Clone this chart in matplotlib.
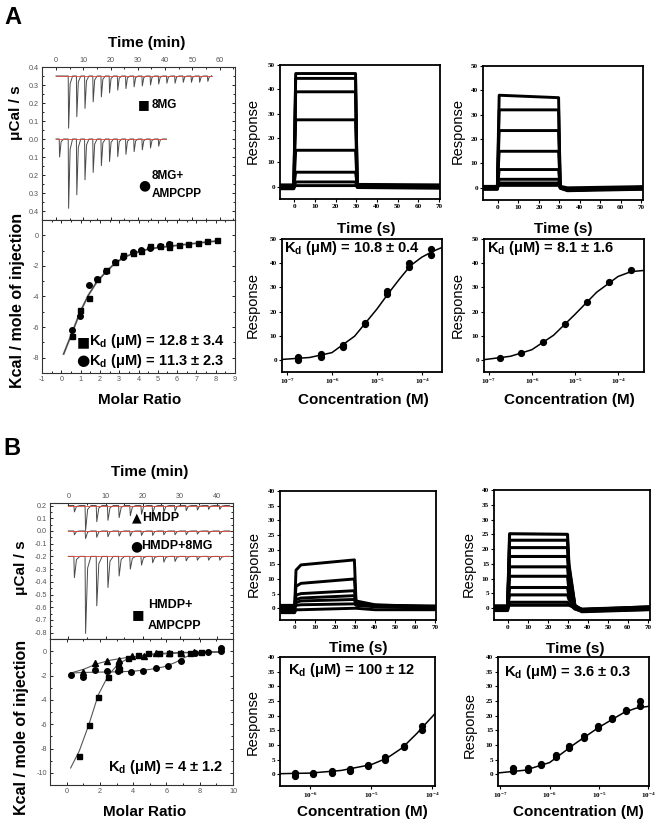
import matplotlib
matplotlib.use("Agg")
import matplotlib.pyplot as plt
from matplotlib.ticker import AutoMinorLocator, NullLocator

W, H = 661, 825
plt.rcParams["font.family"] = ["Liberation Sans", "DejaVu Sans"]
plt.rcParams["mathtext.fontset"] = "custom"
plt.rcParams["mathtext.rm"] = "Liberation Serif:bold"
plt.rcParams["mathtext.sf"] = "Liberation Sans:bold"

# ---------------- panel A : ITC raw heats (min, uCal/s) ----------------
a_8mg_inj = [4.5, 7.5, 10.5, 13.5, 16.5, 19.5, 22.5, 25.5, 28.5, 31.5, 34.5,
             37.5, 40.5, 43.5, 46.5, 49.5, 52.5, 55.5]
a_8mg_depth = [0.29, 0.226, 0.18, 0.144, 0.116, 0.094, 0.079, 0.07, 0.06,
               0.055, 0.05, 0.045, 0.04, 0.04, 0.035, 0.035, 0.035, 0.03]
a_amp_inj = [1.2, 4.5, 7.5, 10.5, 13.5, 16.5, 19.5, 22.5, 25.5, 28.5, 31.5,
             34.5, 37.5]
a_amp_depth = [0.1, 0.385, 0.31, 0.227, 0.186, 0.148, 0.125, 0.098, 0.085,
               0.07, 0.06, 0.05, 0.04]

# panel A : integrated heats
a_ratio_sq = [0.55, 0.98, 1.41, 1.84, 2.31, 2.76, 3.22, 3.69, 4.14, 4.6, 5.12,
              5.59, 5.59, 6.1, 6.59, 7.09, 7.57, 8.09]
a_heat_sq = [-6.59, -4.89, -4.09, -2.87, -2.28, -1.74, -1.30, -1.15, -1.02,
             -0.72, -0.72, -0.59, -0.76, -0.61, -0.54, -0.48, -0.39, -0.28]
a_ratio_ci = [0.55, 0.98, 1.41, 1.84, 2.31, 2.76, 3.22, 3.69, 4.14, 4.6, 5.12,
              5.59]
a_heat_ci = [-6.2, -5.26, -3.22, -2.87, -2.33, -1.74, -1.41, -1.09, -0.93,
             -0.83, -0.72, -0.59]
a_fit_ratio = [0.12, 0.55, 0.98, 1.41, 1.84, 2.31, 2.76, 3.22, 3.69, 4.6,
               5.59, 6.5, 7.6, 8.1]
a_fit_heat = [-7.76, -6.4, -5.0, -3.9, -3.04, -2.4, -1.85, -1.46, -1.2,
              -0.87, -0.72, -0.59, -0.43, -0.37]

# panel A : SPR sensorgrams (s, response)
sa1_t = [-7, -0.3, 0.6, 29.6, 30.4, 71]
sa1_y = [
    [0.5, 0.5, 46.5, 46.5, 0.8, 0.3],
    [-0.5, -0.5, 44.5, 44.5, 0.2, -0.2],
    [0.0, 0.0, 39.0, 39.0, 0.5, 0.0],
    [0.5, 0.5, 27.5, 27.5, 0.4, 0.5],
    [-0.3, -0.3, 15.0, 15.0, 0.0, -0.3],
    [0.3, 0.3, 6.0, 6.0, 0.6, 0.3],
    [-0.8, -0.8, 2.0, 2.0, -0.3, -0.6],
    [0.8, 0.8, 0.5, 0.5, 1.0, 0.8],
]
sa2_t = [-7, -0.3, 0.6, 29.6, 30.4, 34, 71]
sa2_y = [
    [0.3, 0.3, 38.0, 37.0, 0.3, -0.8, -0.5],
    [-0.5, -0.5, 32.0, 32.0, 0.0, -1.0, 0.0],
    [0.0, 0.0, 23.5, 23.5, 0.5, -0.5, -0.3],
    [0.5, 0.5, 15.0, 15.0, 0.2, -0.8, 0.3],
    [-0.3, -0.3, 7.5, 7.5, 0.0, -1.0, -0.2],
    [0.2, 0.2, 3.5, 3.5, 0.4, -0.3, 0.0],
    [-0.6, -0.6, 2.0, 2.0, -0.2, -1.2, -0.6],
    [0.6, 0.6, 1.0, 1.0, 0.6, 0.0, 0.5],
]

# panel A : SPR steady state
a1_conc = [1.78e-7, 1.78e-7, 5.6e-7, 5.6e-7, 1.74e-6, 1.74e-6, 5.4e-6, 5.4e-6,
           1.66e-5, 1.66e-5, 5.1e-5, 5.1e-5, 1.6e-4, 1.6e-4]
a1_resp = [0.0, 1.0, 1.0, 2.3, 5.5, 6.2, 14.8, 15.3, 27.2, 28.3, 38.5, 40.0,
           43.5, 45.8]
a1_fit_conc = [7.9e-8, 3.2e-7, 1e-6, 3.2e-6, 1e-5, 1.8e-5, 3.2e-5, 5.6e-5,
               1e-4, 1.8e-4, 2.8e-4]
a1_fit_resp = [0.2, 1.0, 3.0, 9.8, 21.0, 27.5, 33.5, 39.0, 42.5, 45.0, 46.5]

a2_conc = [1.82e-7, 5.75e-7, 1.86e-6, 6.0e-6, 1.9e-5, 6.2e-5, 1.95e-4]
a2_resp = [0.7, 3.0, 7.3, 14.9, 23.8, 32.2, 37.0]
a2_fit_conc = [7.8e-8, 3.2e-7, 1e-6, 3.2e-6, 1e-5, 3.2e-5, 1e-4, 2e-4, 4e-4]
a2_fit_resp = [0.1, 1.5, 4.2, 10.2, 18.8, 28.0, 34.5, 36.5, 37.0]

# ---------------- panel B : ITC raw heats ----------------
b_inj = [1.5, 4.5, 7.5, 10.5, 13.5, 16.5, 19.5, 22.5, 25.5, 28.5, 31.5, 34.5,
         37.5, 40.5]
b_hmdp_depth = [0.05, 0.197, 0.127, 0.116, 0.095, 0.08, 0.068, 0.06, 0.05,
                0.045, 0.04, 0.035, 0.03, 0.03]
b_8mg_depth = [0.03, 0.06, 0.05, 0.045, 0.04, 0.04, 0.035, 0.035, 0.03, 0.03,
               0.03, 0.025, 0.025, 0.025]
b_amp_depth = [0.167, 0.606, 0.389, 0.245, 0.154, 0.10, 0.068, 0.05, 0.045,
               0.04, 0.035, 0.03, 0.03, 0.03]

# panel B : integrated heats
b_ratio_sq = [0.76, 1.32, 1.9, 2.5, 3.1, 3.14, 3.7, 4.3, 4.9, 5.56, 6.16, 6.8,
              7.44, 8.1]
b_heat_sq = [-8.6, -6.06, -3.8, -2.15, -1.1, -1.5, -0.6, -0.33, -0.19, -0.14,
             -0.14, -0.19, -0.19, -0.08]
b_ratio_ci = [0.26, 1.0, 1.7, 2.4, 3.1, 3.86, 4.6, 5.36, 6.1, 6.9, 7.7, 8.5,
              9.3, 9.3]
b_heat_ci = [-1.98, -2.15, -1.57, -1.6, -1.65, -1.68, -1.63, -1.38, -1.24,
             -0.83, -0.14, -0.03, 0.22, 0.0]
b_ratio_tr = [0.96, 1.7, 2.4, 3.14, 3.9, 4.64, 5.4, 6.16, 6.9, 7.66]
b_heat_tr = [-1.73, -1.0, -0.77, -0.69, -0.41, -0.41, -0.14, -0.14, -0.14,
             -0.08]
b_fit_sq_x = [0.24, 0.76, 1.32, 1.9, 2.5, 3.1, 3.7, 4.9, 6.5, 9.4]
b_fit_sq_y = [-9.6, -8.2, -6.1, -3.6, -2.0, -1.05, -0.6, -0.25, -0.12, -0.05]
b_fit_ci_x = [0.24, 1.0, 2.0, 3.0, 4.0, 5.0, 5.8, 6.5, 7.2, 8.0, 9.4]
b_fit_ci_y = [-1.8, -1.75, -1.72, -1.7, -1.65, -1.5, -1.3, -0.95, -0.45,
              -0.12, -0.05]
b_fit_tr_x = [0.24, 1.0, 1.8, 2.6, 3.5, 4.5, 5.5, 7.0, 9.4]
b_fit_tr_y = [-1.8, -1.5, -1.05, -0.75, -0.55, -0.38, -0.25, -0.14, -0.05]

# panel B : SPR sensorgrams
sb1_t = [-7.5, -0.2, 0.5, 3, 29.7, 30.5, 40, 70.5]
sb1_y = [
    [0.0, 0.0, 13.0, 14.8, 16.5, 2.5, 1.2, 0.5],
    [0.5, 0.5, 7.5, 8.5, 10.0, 2.0, 1.0, 0.3],
    [-0.5, -0.5, 4.5, 5.0, 6.0, 1.8, 0.8, 0.5],
    [0.5, 0.5, 3.0, 3.5, 4.3, 1.5, 1.0, 0.8],
    [-1.0, -1.0, 2.0, 2.5, 3.0, 1.0, 0.5, 0.0],
    [1.0, 1.0, 1.0, 1.2, 1.5, 1.2, 0.8, 0.5],
    [-1.5, -1.5, -0.5, -0.5, 0.0, 0.0, -0.5, -0.5],
]
sb2_t = [-7, -0.2, 0.8, 29.8, 30.5, 33.5, 37, 71]
sb2_y = [
    [0.5, 0.5, 25.2, 25.0, 15.0, 1.0, -0.5, 0.0],
    [-0.5, -0.5, 23.0, 23.0, 14.0, 0.8, -1.0, 0.3],
    [0.0, 0.0, 20.5, 20.5, 12.5, 0.5, -0.8, -0.3],
    [0.8, 0.8, 17.5, 17.5, 10.5, 0.5, -0.5, 0.5],
    [-0.8, -0.8, 14.0, 14.0, 8.5, 0.0, -1.2, -0.5],
    [0.3, 0.3, 10.8, 10.8, 6.5, 0.3, -0.6, 0.0],
    [-0.3, -0.3, 7.0, 7.0, 4.3, 0.0, -0.8, -0.2],
    [0.6, 0.6, 4.5, 4.5, 3.0, 0.5, -0.3, 0.4],
    [-0.6, -0.6, 2.0, 2.0, 1.5, -0.3, -1.0, -0.4],
    [0.2, 0.2, 1.0, 1.0, 1.0, 0.2, -0.5, 0.2],
]

# panel B : SPR steady state
b1_conc = [5.7e-7, 5.7e-7, 1.12e-6, 1.12e-6, 2.24e-6, 2.24e-6, 4.4e-6, 4.4e-6,
           8.7e-6, 8.7e-6, 1.7e-5, 1.7e-5, 3.4e-5, 3.4e-5, 6.8e-5, 6.8e-5]
b1_resp = [-0.5, 0.3, 0.0, 0.6, 0.6, 1.2, 1.2, 1.9, 2.8, 3.2, 5.0, 5.8, 9.2,
           9.8, 15.2, 16.3]
b1_fit_conc = [3.2e-7, 1e-6, 3.2e-6, 1e-5, 1.8e-5, 3.2e-5, 5.6e-5, 1.1e-4]
b1_fit_resp = [0.2, 0.4, 1.3, 3.3, 5.5, 9.0, 14.0, 20.7]

b2_conc = [1.82e-7, 1.82e-7, 3.55e-7, 3.55e-7, 6.6e-7, 6.6e-7, 1.32e-6,
           1.32e-6, 2.5e-6, 2.5e-6, 4.9e-6, 4.9e-6, 9.5e-6, 9.5e-6, 1.82e-5,
           1.82e-5, 3.5e-5, 3.5e-5, 6.9e-5, 6.9e-5]
b2_resp = [1.2, 2.0, 1.5, 2.2, 3.3, 3.5, 6.0, 6.5, 9.0, 9.8, 12.5, 13.0, 15.7,
           16.5, 19.0, 19.3, 21.5, 22.0, 23.2, 25.0]
b2_fit_conc = [8.9e-8, 3.2e-7, 1e-6, 3.2e-6, 1e-5, 3.2e-5, 5.6e-5, 1.05e-4]
b2_fit_resp = [0.45, 1.4, 4.0, 10.3, 16.0, 21.0, 22.5, 23.2]

TRACE = "#4a4a4a"
RED = "#d9473a"
ITC_TICK = "#555555"
SYM = "DejaVu Sans"

fig = plt.figure(figsize=(W / 100, H / 100), dpi=100)


def box(l, t, r, b):
    return [l / W, 1 - b / H, (r - l) / W, (b - t) / H]


def ftext(x, y, s, **kw):
    kw.setdefault("ha", "center")
    kw.setdefault("va", "center")
    fig.text(x / W, 1 - y / H, s, **kw)


def itc_trace(t0, t1, base, inj, depth):
    t, y = [t0], [base]
    for ti, d in zip(inj, depth):
        t += [ti, ti + 0.15, ti + 0.7, ti + 1.6]
        y += [base, base - d, base - 0.15 * d, base]
    t.append(t1)
    y.append(base)
    return t, y


def itc_style(ax):
    ax.xaxis.set_minor_locator(AutoMinorLocator(2))
    ax.yaxis.set_minor_locator(AutoMinorLocator(2))
    ax.tick_params(which="both", direction="in", top=True, right=True,
                   labelsize=5.2, labelcolor=ITC_TICK, width=0.6, pad=2)
    ax.tick_params(which="major", length=2.5)
    ax.tick_params(which="minor", length=1.4)
    for s in ax.spines.values():
        s.set_linewidth(0.8)
        s.set_color("#333333")


def spr_style(ax, xt, xl, yt):
    ax.set_xticks(xt, xl, fontsize=5.2, fontweight="bold", family="Liberation Serif")
    ax.set_yticks(yt, [str(v) for v in yt], fontsize=5.2, fontweight="bold",
                  family="Liberation Serif")
    ax.xaxis.set_minor_locator(NullLocator())
    ax.tick_params(direction="out", length=2, width=0.8, pad=1.5)
    for s in ax.spines.values():
        s.set_linewidth(1.3)


def kd(s):
    return r"K$_\mathsf{d}$" + s


# ================= A : ITC =================
ax = fig.add_axes(box(42, 67, 235, 220))
t, y = itc_trace(0, 57, 0.35, a_8mg_inj, a_8mg_depth)
ax.plot(t, y, color=TRACE, lw=0.7)
t, y = itc_trace(0, 40.5, 0.0, a_amp_inj, a_amp_depth)
ax.plot(t, y, color=TRACE, lw=0.7)
ax.plot([0, 57], [0.35, 0.35], color=RED, lw=0.6)
ax.plot([0, 40.5], [0.0, 0.0], color=RED, lw=0.6)
ax.set_xlim(-5.1, 65.6)
ax.set_ylim(-0.45, 0.4)
itc_style(ax)
ax.xaxis.tick_top()
ax.tick_params(which="both", bottom=True)
ax.set_xticks([0, 10, 20, 30, 40, 50, 60], ["0", "10", "20", "30", "40", "50", "60"])
yt = [0.4, 0.3, 0.2, 0.1, 0.0, -0.1, -0.2, -0.3, -0.4]
ax.set_yticks(yt, [f"{abs(v):.1f}" for v in yt])

ax = fig.add_axes(box(42, 220, 235, 373))
ax.plot(a_fit_ratio, a_fit_heat, color="#777777", lw=1.4)
ax.plot(a_fit_ratio, a_fit_heat, color="#333333", lw=0.5)
ax.plot(a_ratio_sq, a_heat_sq, "s", color="black", ms=3.6)
ax.plot(a_ratio_ci, a_heat_ci, "o", color="black", ms=4)
ax.set_xlim(-1, 9)
ax.set_ylim(-9, 1)
itc_style(ax)
ax.set_xticks(range(-1, 10), [str(v) for v in range(-1, 10)])
ax.set_yticks([0, -2, -4, -6, -8], ["0", "-2", "-4", "-6", "-8"])

ftext(13, 17, "A", fontsize=17, fontweight="bold")
ftext(147, 43, "Time (min)", fontsize=11, fontweight="bold")
ftext(16, 113, "μCal / s", fontsize=11, fontweight="bold", rotation=90)
ftext(18, 300, "Kcal / mole of injection", fontsize=11.5, fontweight="bold",
      rotation=90)
ftext(140, 400, "Molar Ratio", fontsize=11, fontweight="bold")
ftext(144, 105, "■", fontsize=9, family=SYM)
ftext(152, 105, "8MG", fontsize=8.5, fontweight="bold", ha="left")
ftext(144, 185, "●", fontsize=10, family=SYM)
ftext(152, 176, "8MG+", fontsize=8.5, fontweight="bold", ha="left")
ftext(152, 194, "AMPCPP", fontsize=8.5, fontweight="bold", ha="left")
ftext(83, 342, "■", fontsize=10, family=SYM)
ftext(89, 341, kd(" (μM) = 12.8 ± 3.4"), fontsize=10.5, fontweight="bold",
      ha="left")
ftext(83, 361, "●", fontsize=11, family=SYM)
ftext(89, 361, kd(" (μM) = 11.3 ± 2.3"), fontsize=10.5, fontweight="bold",
      ha="left")

# ================= A : SPR =================
sens_ticks = [0, 10, 20, 30, 40, 50, 60, 70]
log_ticks = [1e-7, 1e-6, 1e-5, 1e-4]
log_labels = [r"$\mathrm{10^{-7}}$", r"$\mathrm{10^{-6}}$",
              r"$\mathrm{10^{-5}}$", r"$\mathrm{10^{-4}}$"]

ax = fig.add_axes(box(280, 65, 440, 199))
for yy in sa1_y:
    ax.plot(sa1_t, yy, color="black", lw=2.1)
ax.set_xlim(-7, 70.5)
ax.set_ylim(-5, 50)
spr_style(ax, sens_ticks, [str(v) for v in sens_ticks], [0, 10, 20, 30, 40, 50])

ax = fig.add_axes(box(483, 66, 643, 200))
for yy in sa2_y:
    ax.plot(sa2_t, yy, color="black", lw=2.1)
ax.set_xlim(-7.3, 70.8)
ax.set_ylim(-5, 50)
spr_style(ax, sens_ticks, [str(v) for v in sens_ticks], [0, 10, 20, 30, 40, 50])

ax = fig.add_axes(box(282, 239, 442, 372))
ax.set_xscale("log")
ax.plot(a1_fit_conc, a1_fit_resp, color="black", lw=1.1)
ax.plot(a1_conc, a1_resp, "o", color="black", ms=4.2)
ax.set_xlim(7.8e-8, 2.8e-4)
ax.set_ylim(-5, 50)
spr_style(ax, log_ticks, log_labels, [0, 10, 20, 30, 40, 50])

ax = fig.add_axes(box(484, 239, 644, 372))
ax.set_xscale("log")
ax.plot(a2_fit_conc, a2_fit_resp, color="black", lw=1.1)
ax.plot(a2_conc, a2_resp, "o", color="black", ms=4.2)
ax.set_xlim(7.8e-8, 4e-4)
ax.set_ylim(-5, 50)
spr_style(ax, log_ticks, log_labels, [0, 10, 20, 30, 40, 50])

for x in (253, 458):
    ftext(x, 131, "Response", fontsize=10.5, rotation=90)
    ftext(x, 305, "Response", fontsize=10.5, rotation=90)
ftext(366, 229, "Time (s)", fontsize=11, fontweight="bold")
ftext(563, 229, "Time (s)", fontsize=11, fontweight="bold")
ftext(363, 400, "Concentration (M)", fontsize=11, fontweight="bold")
ftext(569, 400, "Concentration (M)", fontsize=11, fontweight="bold")
ftext(284, 248, kd(" (μM) = 10.8 ± 0.4"), fontsize=10.5, fontweight="bold",
      ha="left")
ftext(487, 248, kd(" (μM) = 8.1 ± 1.6"), fontsize=10.5, fontweight="bold",
      ha="left")

# ================= B : ITC =================
ax = fig.add_axes(box(50, 503, 233, 639))
for base, depth in ((0.2, b_hmdp_depth), (0.0, b_8mg_depth), (-0.2, b_amp_depth)):
    t, y = itc_trace(0, 43.3, base, b_inj, depth)
    ax.plot(t, y, color=TRACE, lw=0.7)
    ax.plot([0, 43.3], [base, base], color=RED, lw=0.6)
ax.set_xlim(-4.9, 44.2)
ax.set_ylim(-0.85, 0.22)
itc_style(ax)
ax.xaxis.tick_top()
ax.tick_params(which="both", bottom=True)
ax.set_xticks([0, 10, 20, 30, 40], ["0", "10", "20", "30", "40"])
yt = [0.2, 0.1, 0.0, -0.1, -0.2, -0.3, -0.4, -0.5, -0.6, -0.7, -0.8]
ax.set_yticks(yt, [f"{v:.1f}" for v in yt])

ax = fig.add_axes(box(50, 639, 233, 785))
ax.plot(b_fit_sq_x, b_fit_sq_y, color="#555555", lw=0.8)
ax.plot(b_fit_ci_x, b_fit_ci_y, color="#555555", lw=0.8)
ax.plot(b_fit_tr_x, b_fit_tr_y, color="#555555", lw=0.8)
ax.plot(b_ratio_sq, b_heat_sq, "s", color="black", ms=3.6)
ax.plot(b_ratio_ci, b_heat_ci, "o", color="black", ms=4)
ax.plot(b_ratio_tr, b_heat_tr, "^", color="black", ms=4)
ax.set_xlim(-1, 10)
ax.set_ylim(-11, 1)
itc_style(ax)
ax.set_xticks([0, 2, 4, 6, 8, 10], ["0", "2", "4", "6", "8", "10"])
ax.set_yticks([0, -2, -4, -6, -8, -10], ["0", "-2", "-4", "-6", "-8", "-10"])

ftext(12, 449, "B", fontsize=17, fontweight="bold")
ftext(150, 472, "Time (min)", fontsize=11, fontweight="bold")
ftext(21, 568, "μCal / s", fontsize=11, fontweight="bold", rotation=90)
ftext(22, 727, "Kcal / mole of injection", fontsize=11.5, fontweight="bold",
      rotation=90)
ftext(145, 812, "Molar Ratio", fontsize=11, fontweight="bold")
ftext(137, 518, "▲", fontsize=9, family=SYM)
ftext(142, 518, "HMDP", fontsize=9, fontweight="bold", ha="left")
ftext(136, 546, "●", fontsize=10, family=SYM)
ftext(141, 546, "HMDP+8MG", fontsize=9, fontweight="bold", ha="left")
ftext(138, 615, "■", fontsize=9.5, family=SYM)
ftext(148, 605, "HMDP+", fontsize=9, fontweight="bold", ha="left")
ftext(148, 626, "AMPCPP", fontsize=9, fontweight="bold", ha="left")
ftext(108, 767, kd(" (μM) = 4 ± 1.2"), fontsize=10.5, fontweight="bold",
      ha="left")

# ================= B : SPR =================
b_yt = [0, 5, 10, 15, 20, 25, 30, 35, 40]

ax = fig.add_axes(box(280, 491, 436, 620))
for yy in sb1_y:
    ax.plot(sb1_t, yy, color="black", lw=2.1)
ax.set_xlim(-7.5, 70.5)
ax.set_ylim(-4, 40)
spr_style(ax, sens_ticks, [str(v) for v in sens_ticks], b_yt)

ax = fig.add_axes(box(494, 490, 650, 620))
for yy in sb2_y:
    ax.plot(sb2_t, yy, color="black", lw=2.2)
ax.set_xlim(-7, 71.1)
ax.set_ylim(-4, 40)
spr_style(ax, sens_ticks, [str(v) for v in sens_ticks], b_yt)

ax = fig.add_axes(box(280, 657, 435, 786))
ax.set_xscale("log")
ax.plot(b1_fit_conc, b1_fit_resp, color="black", lw=1.1)
ax.plot(b1_conc, b1_resp, "o", color="black", ms=4.2)
ax.set_xlim(3.2e-7, 1.1e-4)
ax.set_ylim(-4, 40)
spr_style(ax, log_ticks[1:], log_labels[1:], b_yt)

ax = fig.add_axes(box(498, 657, 649, 786))
ax.set_xscale("log")
ax.plot(b2_fit_conc, b2_fit_resp, color="black", lw=1.1)
ax.plot(b2_conc, b2_resp, "o", color="black", ms=4.2)
ax.set_xlim(8.9e-8, 1.05e-4)
ax.set_ylim(-4, 40)
spr_style(ax, log_ticks, log_labels, b_yt)

ftext(254, 564, "Response", fontsize=10.5, rotation=90)
ftext(469, 564, "Response", fontsize=10.5, rotation=90)
ftext(253, 722, "Response", fontsize=10.5, rotation=90)
ftext(470, 725, "Response", fontsize=10.5, rotation=90)
ftext(358, 648, "Time (s)", fontsize=11, fontweight="bold")
ftext(575, 649, "Time (s)", fontsize=11, fontweight="bold")
ftext(362, 812, "Concentration (M)", fontsize=11, fontweight="bold")
ftext(578, 812, "Concentration (M)", fontsize=11, fontweight="bold")
ftext(288, 670, kd(" (μM) = 100 ± 12"), fontsize=10.5, fontweight="bold",
      ha="left")
ftext(504, 672, kd(" (μM) = 3.6 ± 0.3"), fontsize=10.5, fontweight="bold",
      ha="left")

fig.savefig("out.png", dpi=100)
